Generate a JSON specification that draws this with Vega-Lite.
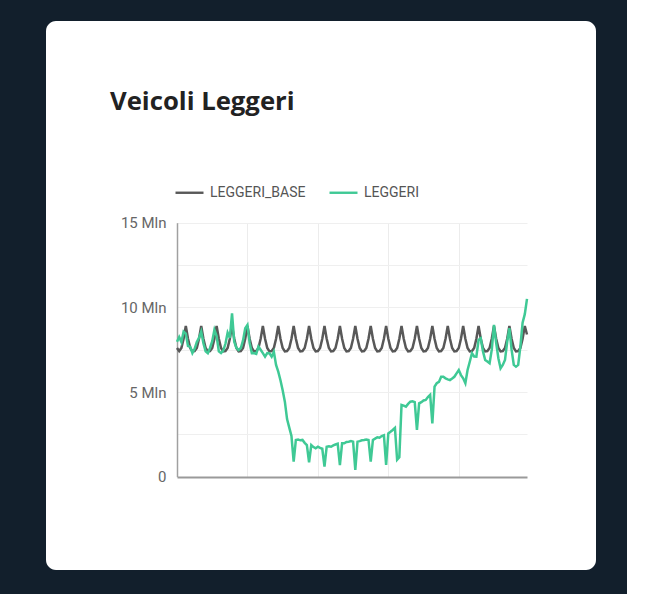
{
  "$schema": "https://vega.github.io/schema/vega-lite/v6.json",
  "width": 550,
  "height": 549,
  "autosize": {"type": "none"},
  "padding": {"left": 46, "top": 21, "right": 31, "bottom": 24},
  "background": "#121f2c",
  "config": {"view": {"fill": "#ffffff", "stroke": null, "cornerRadius": 10}},
  "title": {"text": "Veicoli Leggeri", "anchor": "start", "frame": "group", "dx": 64, "offset": -95, "font": "Open Sans", "fontSize": 25.7, "fontWeight": "bold", "color": "#222222"},
  "data": {"values": [
    {"d":0,"LEGGERI_BASE":7.6,"LEGGERI":7.97},{"d":1,"LEGGERI_BASE":7.42,"LEGGERI":8.25},{"d":2,"LEGGERI_BASE":7.6,"LEGGERI":7.95},{"d":3,"LEGGERI_BASE":8.15,"LEGGERI":8.57},{"d":4,"LEGGERI_BASE":8.9,"LEGGERI":8.45},{"d":5,"LEGGERI_BASE":8.15,"LEGGERI":7.72},{"d":6,"LEGGERI_BASE":7.6,"LEGGERI":7.68},
    {"d":7,"LEGGERI_BASE":7.4,"LEGGERI":7.3},{"d":8,"LEGGERI_BASE":7.42,"LEGGERI":7.55},{"d":9,"LEGGERI_BASE":7.6,"LEGGERI":7.95},{"d":10,"LEGGERI_BASE":8.15,"LEGGERI":8.2},{"d":11,"LEGGERI_BASE":8.9,"LEGGERI":8.57},{"d":12,"LEGGERI_BASE":8.15,"LEGGERI":7.88},{"d":13,"LEGGERI_BASE":7.6,"LEGGERI":7.4},
    {"d":14,"LEGGERI_BASE":7.4,"LEGGERI":7.29},{"d":15,"LEGGERI_BASE":7.42,"LEGGERI":7.6},{"d":16,"LEGGERI_BASE":7.6,"LEGGERI":8.0},{"d":17,"LEGGERI_BASE":8.15,"LEGGERI":8.67},{"d":18,"LEGGERI_BASE":8.9,"LEGGERI":8.3},{"d":19,"LEGGERI_BASE":8.15,"LEGGERI":7.4},{"d":20,"LEGGERI_BASE":7.6,"LEGGERI":7.3},
    {"d":21,"LEGGERI_BASE":7.4,"LEGGERI":7.45},{"d":22,"LEGGERI_BASE":7.42,"LEGGERI":7.85},{"d":23,"LEGGERI_BASE":7.6,"LEGGERI":8.5},{"d":24,"LEGGERI_BASE":8.15,"LEGGERI":8.2},{"d":25,"LEGGERI_BASE":8.9,"LEGGERI":9.65},{"d":26,"LEGGERI_BASE":8.15,"LEGGERI":7.97},{"d":27,"LEGGERI_BASE":7.6,"LEGGERI":7.6},
    {"d":28,"LEGGERI_BASE":7.4,"LEGGERI":7.48},{"d":29,"LEGGERI_BASE":7.42,"LEGGERI":7.6},{"d":30,"LEGGERI_BASE":7.6,"LEGGERI":8.05},{"d":31,"LEGGERI_BASE":8.15,"LEGGERI":8.77},{"d":32,"LEGGERI_BASE":8.9,"LEGGERI":8.96},{"d":33,"LEGGERI_BASE":8.15,"LEGGERI":7.9},{"d":34,"LEGGERI_BASE":7.6,"LEGGERI":7.29},
    {"d":35,"LEGGERI_BASE":7.4,"LEGGERI":7.3},{"d":36,"LEGGERI_BASE":7.42,"LEGGERI":7.25},{"d":37,"LEGGERI_BASE":7.6,"LEGGERI":7.68},{"d":38,"LEGGERI_BASE":8.15,"LEGGERI":7.5},{"d":39,"LEGGERI_BASE":8.9,"LEGGERI":7.3},{"d":40,"LEGGERI_BASE":8.15,"LEGGERI":7.09},{"d":41,"LEGGERI_BASE":7.6,"LEGGERI":7.3},
    {"d":42,"LEGGERI_BASE":7.4,"LEGGERI":7.29},{"d":43,"LEGGERI_BASE":7.42,"LEGGERI":7.09},{"d":44,"LEGGERI_BASE":7.6,"LEGGERI":7.38},{"d":45,"LEGGERI_BASE":8.15,"LEGGERI":6.6},{"d":46,"LEGGERI_BASE":8.9,"LEGGERI":6.2},{"d":47,"LEGGERI_BASE":8.15,"LEGGERI":5.7},{"d":48,"LEGGERI_BASE":7.6,"LEGGERI":5.1},
    {"d":49,"LEGGERI_BASE":7.4,"LEGGERI":4.43},{"d":50,"LEGGERI_BASE":7.42,"LEGGERI":3.4},{"d":51,"LEGGERI_BASE":7.6,"LEGGERI":2.9},{"d":52,"LEGGERI_BASE":8.15,"LEGGERI":2.4},{"d":53,"LEGGERI_BASE":8.9,"LEGGERI":0.89},{"d":54,"LEGGERI_BASE":8.15,"LEGGERI":2.17},{"d":55,"LEGGERI_BASE":7.6,"LEGGERI":2.2},
    {"d":56,"LEGGERI_BASE":7.4,"LEGGERI":2.15},{"d":57,"LEGGERI_BASE":7.42,"LEGGERI":2.17},{"d":58,"LEGGERI_BASE":7.6,"LEGGERI":2.0},{"d":59,"LEGGERI_BASE":8.15,"LEGGERI":1.87},{"d":60,"LEGGERI_BASE":8.9,"LEGGERI":0.85},{"d":61,"LEGGERI_BASE":8.15,"LEGGERI":1.87},{"d":62,"LEGGERI_BASE":7.6,"LEGGERI":1.75},
    {"d":63,"LEGGERI_BASE":7.4,"LEGGERI":1.68},{"d":64,"LEGGERI_BASE":7.42,"LEGGERI":1.77},{"d":65,"LEGGERI_BASE":7.6,"LEGGERI":1.7},{"d":66,"LEGGERI_BASE":8.15,"LEGGERI":1.65},{"d":67,"LEGGERI_BASE":8.9,"LEGGERI":0.59},{"d":68,"LEGGERI_BASE":8.15,"LEGGERI":1.77},{"d":69,"LEGGERI_BASE":7.6,"LEGGERI":1.8},
    {"d":70,"LEGGERI_BASE":7.4,"LEGGERI":1.77},{"d":71,"LEGGERI_BASE":7.42,"LEGGERI":1.85},{"d":72,"LEGGERI_BASE":7.6,"LEGGERI":1.9},{"d":73,"LEGGERI_BASE":8.15,"LEGGERI":1.95},{"d":74,"LEGGERI_BASE":8.9,"LEGGERI":0.69},{"d":75,"LEGGERI_BASE":8.15,"LEGGERI":1.97},{"d":76,"LEGGERI_BASE":7.6,"LEGGERI":1.97},
    {"d":77,"LEGGERI_BASE":7.4,"LEGGERI":2.05},{"d":78,"LEGGERI_BASE":7.42,"LEGGERI":2.07},{"d":79,"LEGGERI_BASE":7.6,"LEGGERI":2.1},{"d":80,"LEGGERI_BASE":8.15,"LEGGERI":2.07},{"d":81,"LEGGERI_BASE":8.9,"LEGGERI":0.4},{"d":82,"LEGGERI_BASE":8.15,"LEGGERI":2.07},{"d":83,"LEGGERI_BASE":7.6,"LEGGERI":2.1},
    {"d":84,"LEGGERI_BASE":7.4,"LEGGERI":2.15},{"d":85,"LEGGERI_BASE":7.42,"LEGGERI":2.17},{"d":86,"LEGGERI_BASE":7.6,"LEGGERI":2.2},{"d":87,"LEGGERI_BASE":8.15,"LEGGERI":2.17},{"d":88,"LEGGERI_BASE":8.9,"LEGGERI":0.89},{"d":89,"LEGGERI_BASE":8.15,"LEGGERI":2.17},{"d":90,"LEGGERI_BASE":7.6,"LEGGERI":2.25},
    {"d":91,"LEGGERI_BASE":7.4,"LEGGERI":2.33},{"d":92,"LEGGERI_BASE":7.42,"LEGGERI":2.3},{"d":93,"LEGGERI_BASE":7.6,"LEGGERI":2.4},{"d":94,"LEGGERI_BASE":8.15,"LEGGERI":2.45},{"d":95,"LEGGERI_BASE":8.9,"LEGGERI":0.69},{"d":96,"LEGGERI_BASE":8.15,"LEGGERI":2.56},{"d":97,"LEGGERI_BASE":7.6,"LEGGERI":2.65},
    {"d":98,"LEGGERI_BASE":7.4,"LEGGERI":2.76},{"d":99,"LEGGERI_BASE":7.42,"LEGGERI":2.88},{"d":100,"LEGGERI_BASE":7.6,"LEGGERI":1.0},{"d":101,"LEGGERI_BASE":8.15,"LEGGERI":1.15},{"d":102,"LEGGERI_BASE":8.9,"LEGGERI":4.24},{"d":103,"LEGGERI_BASE":8.15,"LEGGERI":4.2},{"d":104,"LEGGERI_BASE":7.6,"LEGGERI":4.14},
    {"d":105,"LEGGERI_BASE":7.4,"LEGGERI":4.3},{"d":106,"LEGGERI_BASE":7.42,"LEGGERI":4.43},{"d":107,"LEGGERI_BASE":7.6,"LEGGERI":4.45},{"d":108,"LEGGERI_BASE":8.15,"LEGGERI":4.4},{"d":109,"LEGGERI_BASE":8.9,"LEGGERI":2.76},{"d":110,"LEGGERI_BASE":8.15,"LEGGERI":4.33},{"d":111,"LEGGERI_BASE":7.6,"LEGGERI":4.4},
    {"d":112,"LEGGERI_BASE":7.4,"LEGGERI":4.5},{"d":113,"LEGGERI_BASE":7.42,"LEGGERI":4.53},{"d":114,"LEGGERI_BASE":7.6,"LEGGERI":4.7},{"d":115,"LEGGERI_BASE":8.15,"LEGGERI":4.83},{"d":116,"LEGGERI_BASE":8.9,"LEGGERI":3.15},{"d":117,"LEGGERI_BASE":8.15,"LEGGERI":5.32},{"d":118,"LEGGERI_BASE":7.6,"LEGGERI":5.52},
    {"d":119,"LEGGERI_BASE":7.4,"LEGGERI":5.6},{"d":120,"LEGGERI_BASE":7.42,"LEGGERI":5.9},{"d":121,"LEGGERI_BASE":7.6,"LEGGERI":5.9},{"d":122,"LEGGERI_BASE":8.15,"LEGGERI":5.81},{"d":123,"LEGGERI_BASE":8.9,"LEGGERI":5.75},{"d":124,"LEGGERI_BASE":8.15,"LEGGERI":5.71},{"d":125,"LEGGERI_BASE":7.6,"LEGGERI":5.8},
    {"d":126,"LEGGERI_BASE":7.4,"LEGGERI":5.9},{"d":127,"LEGGERI_BASE":7.42,"LEGGERI":6.1},{"d":128,"LEGGERI_BASE":7.6,"LEGGERI":6.3},{"d":129,"LEGGERI_BASE":8.15,"LEGGERI":6.0},{"d":130,"LEGGERI_BASE":8.9,"LEGGERI":5.81},{"d":131,"LEGGERI_BASE":8.15,"LEGGERI":5.52},{"d":132,"LEGGERI_BASE":7.6,"LEGGERI":6.3},
    {"d":133,"LEGGERI_BASE":7.4,"LEGGERI":6.79},{"d":134,"LEGGERI_BASE":7.42,"LEGGERI":7.29},{"d":135,"LEGGERI_BASE":7.6,"LEGGERI":7.1},{"d":136,"LEGGERI_BASE":8.15,"LEGGERI":7.09},{"d":137,"LEGGERI_BASE":8.9,"LEGGERI":8.07},{"d":138,"LEGGERI_BASE":8.15,"LEGGERI":8.17},{"d":139,"LEGGERI_BASE":7.6,"LEGGERI":7.4},
    {"d":140,"LEGGERI_BASE":7.4,"LEGGERI":6.89},{"d":141,"LEGGERI_BASE":7.42,"LEGGERI":6.8},{"d":142,"LEGGERI_BASE":7.6,"LEGGERI":6.7},{"d":143,"LEGGERI_BASE":8.15,"LEGGERI":7.5},{"d":144,"LEGGERI_BASE":8.9,"LEGGERI":8.96},{"d":145,"LEGGERI_BASE":8.15,"LEGGERI":7.9},{"d":146,"LEGGERI_BASE":7.6,"LEGGERI":7.0},
    {"d":147,"LEGGERI_BASE":7.4,"LEGGERI":6.4},{"d":148,"LEGGERI_BASE":7.42,"LEGGERI":6.6},{"d":149,"LEGGERI_BASE":7.6,"LEGGERI":6.89},{"d":150,"LEGGERI_BASE":8.15,"LEGGERI":7.97},{"d":151,"LEGGERI_BASE":8.9,"LEGGERI":8.77},{"d":152,"LEGGERI_BASE":8.15,"LEGGERI":7.5},{"d":153,"LEGGERI_BASE":7.6,"LEGGERI":6.6},
    {"d":154,"LEGGERI_BASE":7.4,"LEGGERI":6.5},{"d":155,"LEGGERI_BASE":7.42,"LEGGERI":6.6},{"d":156,"LEGGERI_BASE":7.6,"LEGGERI":7.7},{"d":157,"LEGGERI_BASE":8.15,"LEGGERI":9.1},{"d":158,"LEGGERI_BASE":8.9,"LEGGERI":9.6},{"d":159,"LEGGERI_BASE":8.4,"LEGGERI":10.5}
  ]},
  "transform": [{"fold": ["LEGGERI_BASE", "LEGGERI"], "as": ["serie", "valore"]}],
  "encoding": {
    "x": {
      "field": "d", "type": "quantitative",
      "scale": {"domain": [0, 159], "range": [131, 481], "nice": false, "zero": false},
      "axis": {"orient": "top", "title": null, "labels": false, "ticks": false, "domain": false, "values": [0, 32, 64, 96, 128], "gridColor": "#ececec", "gridWidth": 1}
    },
    "y": {
      "field": "valore", "type": "quantitative",
      "scale": {"domain": [0, 15], "range": [455.7, 201.7], "nice": false},
      "axis": {
        "title": null, "values": [0, 2.5, 5, 7.5, 10, 12.5, 15],
        "labelExpr": "datum.value == 0 ? '0' : (datum.value % 5 == 0 ? datum.value + ' Mln' : '')",
        "offset": -131, "ticks": false, "labelPadding": 11,
        "labelFont": "Roboto", "labelFontSize": 15, "labelColor": "#666666",
        "domainColor": "#a0a0a0", "domainWidth": 1.5,
        "gridColor": {"condition": {"test": "datum.value === 0", "value": "#9a9a9a"}, "value": "#efefef"},
        "gridWidth": {"condition": {"test": "datum.value === 0", "value": 2}, "value": 1}
      }
    },
    "color": {
      "field": "serie", "type": "nominal",
      "scale": {"domain": ["LEGGERI_BASE", "LEGGERI"], "range": ["#585858", "#3fc995"]},
      "legend": {"title": null, "orient": "none", "legendX": 128, "legendY": 156, "direction": "horizontal", "symbolType": "stroke", "symbolSize": 784, "symbolStrokeWidth": 2.4, "labelFont": "Roboto", "labelFontSize": 14, "labelColor": "#555555", "columnPadding": 18, "labelOffset": 5, "padding": 0}
    }
  },
  "layer": [
    {"transform": [{"filter": "datum.serie === 'LEGGERI_BASE'"}], "mark": {"type": "line", "strokeWidth": 2.5}},
    {"transform": [{"filter": "datum.serie === 'LEGGERI'"}], "mark": {"type": "line", "strokeWidth": 2.5}}
  ]
}
